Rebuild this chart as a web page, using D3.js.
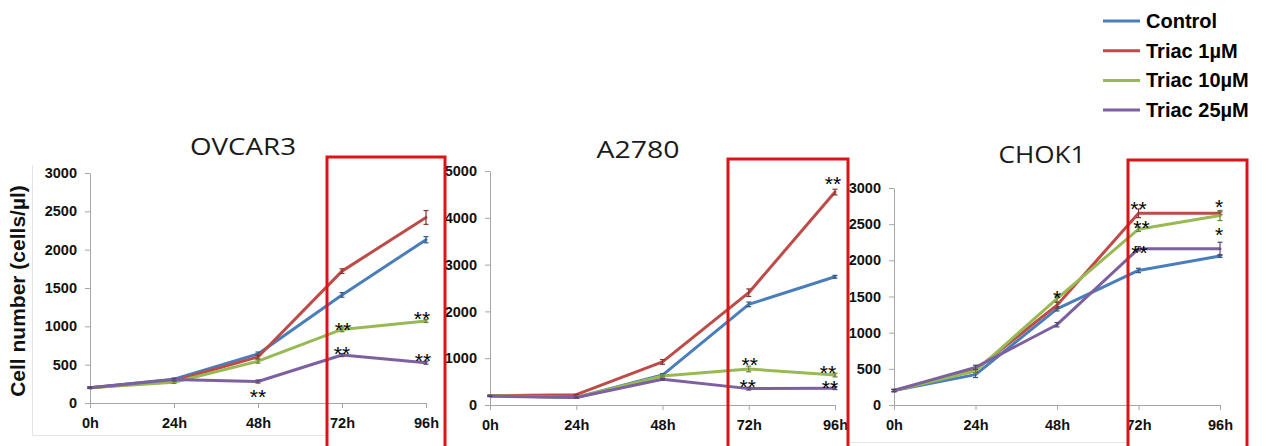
<!DOCTYPE html>
<html>
<head>
<meta charset="utf-8">
<script src="https://cdn.jsdelivr.net/npm/d3@7/dist/d3.min.js"></script>
<style>
  html, body { margin: 0; padding: 0; background: #fff; }
  svg { display: block; }
  .tick text { font-family: "Liberation Sans", Arial, sans-serif; font-weight: bold; font-size: 14.5px; fill: #111; }
</style>
</head>
<body>
<svg id="chart" width="1266" height="446"></svg>
<script>
// Time points and series
const times = ["0h", "24h", "48h", "72h", "96h"];
const seriesNames = ["Control", "Triac 1\u00b5M", "Triac 10\u00b5M", "Triac 25\u00b5M"];
const seriesColors = ["#4a7ebb", "#be4b48", "#98b954", "#7d60a0"];

// Cell counts (cells/µl), one row per series, one column per time point
const ovcar3Values = [
  [200, 310, 640, 1410, 2130],
  [200, 290, 600, 1720, 2420],
  [200, 270, 545, 960, 1070],
  [200, 305, 280, 626, 526]
];
const a2780Values = [
  [200, 160, 640, 2150, 2740],
  [200, 220, 920, 2400, 4550],
  [200, 160, 620, 770, 640],
  [190, 160, 550, 350, 360]
];
const chok1Values = [
  [200, 420, 1330, 1860, 2060],
  [200, 485, 1380, 2650, 2650],
  [200, 470, 1470, 2430, 2620],
  [200, 520, 1110, 2160, 2160]
];

// Error bar half-widths (same layout as the values)
const ovcar3Errors = [
  [10, 15, 25, 30, 40],
  [10, 15, 25, 30, 90],
  [10, 15, 25, 30, 20],
  [10, 15, 20, 20, 20]
];
const a2780Errors = [
  [10, 10, 30, 50, 30],
  [10, 10, 50, 80, 60],
  [10, 10, 20, 60, 40],
  [10, 10, 20, 30, 30]
];
const chok1Errors = [
  [15, 40, 30, 30, 20],
  [15, 30, 40, 60, 20],
  [15, 30, 40, 30, 70],
  [15, 30, 30, 30, 90]
];

// Y-axis ticks per panel
const ovcar3Ticks = [0, 500, 1000, 1500, 2000, 2500, 3000];
const a2780Ticks = [0, 1000, 2000, 3000, 4000, 5000];
const chok1Ticks = [0, 500, 1000, 1500, 2000, 2500, 3000];

const panelTitles = ["OVCAR3", "A2780", "CHOK1"];

// Significance marks: [panel, series, time index, label]
const significance = [
  [0, 3, 2, "**"], [0, 2, 3, "**"], [0, 3, 3, "**"], [0, 2, 4, "**"], [0, 3, 4, "**"],
  [1, 1, 4, "**"], [1, 2, 3, "**"], [1, 3, 3, "**"], [1, 2, 4, "**"], [1, 3, 4, "**"],
  [2, 2, 2, "*"], [2, 1, 3, "**"], [2, 2, 3, "**"], [2, 3, 3, "**"], [2, 1, 4, "*"], [2, 3, 4, "*"]
];
// Pixel offsets of each mark from its point
const significanceNudge = [
  [0, 10], [1, -5], [0, -6], [-4, -7], [-3, -7],
  [-2, -13], [1, -9], [-1, -7], [-7, -7], [-5, -5],
  [0, -6], [0, -10], [3, -6], [1, -1], [-1, -12], [-1, -19]
];

// ---- layout ----
const panels = [
  { values: ovcar3Values, errors: ovcar3Errors, ticks: ovcar3Ticks, yMax: 3000,
    x: [90, 426], y: [403, 173], title: [243, 155, 106], box: [327, 157, 445] },
  { values: a2780Values, errors: a2780Errors, ticks: a2780Ticks, yMax: 5000,
    x: [490, 835], y: [405, 171], title: [638, 158, 83], box: [728, 159, 848] },
  { values: chok1Values, errors: chok1Errors, ticks: chok1Ticks, yMax: 3000,
    x: [894, 1220], y: [405, 188], title: [1042, 163, 87], box: [1128, 160, 1247] }
];

const svg = d3.select("#chart");
const font = '"Liberation Sans", Arial, sans-serif';

// faint chart-area outlines
const frame = svg.append("g").attr("stroke", "#e4e4e4").attr("stroke-width", 1).attr("fill", "none");
frame.append("path").attr("d", "M32.5,165 V435.5 H327");
frame.append("path").attr("d", "M850,442.5 H1128");

panels.forEach((p, pi) => {
  const x = d3.scalePoint().domain(times).range(p.x);
  const y = d3.scaleLinear().domain([0, p.yMax]).range(p.y);
  const g = svg.append("g");

  const xAxis = g.append("g")
    .attr("transform", `translate(0,${p.y[0]})`)
    .call(d3.axisBottom(x).tickSize(5).tickSizeOuter(0).tickPadding(10));
  const yAxis = g.append("g")
    .attr("transform", `translate(${p.x[0]},0)`)
    .call(d3.axisLeft(y).tickValues(p.ticks).tickFormat(d3.format("d")).tickSize(5).tickSizeOuter(0).tickPadding(8));
  [xAxis, yAxis].forEach(a => {
    a.select(".domain").attr("stroke", "#a6a6a6");
    a.selectAll(".tick line").attr("stroke", "#a6a6a6");
    a.attr("font-family", null).attr("font-size", null);
  });

  // title
  g.append("text")
    .attr("x", p.title[0]).attr("y", p.title[1])
    .attr("text-anchor", "middle")
    .attr("font-family", '"Open Sans", "Noto Sans", sans-serif')
    .attr("font-size", 23)
    .attr("fill", "#1a1a1a")
    .attr("textLength", p.title[2])
    .attr("lengthAdjust", "spacingAndGlyphs")
    .text(panelTitles[pi]);

  const line = d3.line().x((d, i) => x(times[i])).y(d => y(d));

  p.values.forEach((vals, si) => {
    g.append("path")
      .datum(vals)
      .attr("d", line)
      .attr("fill", "none")
      .attr("stroke", seriesColors[si])
      .attr("stroke-width", 3)
      .attr("stroke-linejoin", "round")
      .attr("stroke-linecap", "round");

    // error bars
    const eb = g.append("g").attr("stroke", d3.color(seriesColors[si]).darker(1)).attr("stroke-width", 1.2);
    vals.forEach((v, ti) => {
      const e = p.errors[si][ti];
      const cx = x(times[ti]);
      eb.append("line").attr("x1", cx).attr("x2", cx).attr("y1", y(v - e)).attr("y2", y(v + e));
      eb.append("line").attr("x1", cx - 2.5).attr("x2", cx + 2.5).attr("y1", y(v - e)).attr("y2", y(v - e));
      eb.append("line").attr("x1", cx - 2.5).attr("x2", cx + 2.5).attr("y1", y(v + e)).attr("y2", y(v + e));
    });
  });

  // significance marks for this panel
  significance.forEach((s, k) => {
    if (s[0] !== pi) return;
    const [dx, dy] = significanceNudge[k];
    const cx = x(times[s[2]]) + dx;
    const cy = y(p.values[s[1]][s[2]]) + dy;
    g.append("text")
      .attr("x", cx).attr("y", cy + 12.2)
      .attr("text-anchor", "middle")
      .attr("font-family", font)
      .attr("font-size", 21)
      .attr("fill", "#000")
      .text(s[3]);
  });
});

// highlight boxes around the 72h–96h window
panels.forEach(p => {
  const [x0, y0, x1] = p.box;
  svg.append("rect")
    .attr("x", x0).attr("y", y0)
    .attr("width", x1 - x0).attr("height", 450 - y0)
    .attr("fill", "none")
    .attr("stroke", "#dc1414")
    .attr("stroke-width", 3);
});

// y-axis title
svg.append("text")
  .attr("transform", "translate(25,291) rotate(-90)")
  .attr("text-anchor", "middle")
  .attr("font-family", font)
  .attr("font-weight", "bold")
  .attr("font-size", 21)
  .attr("fill", "#111")
  .text("Cell number (cells/\u00b5l)");

// legend
const legend = svg.append("g");
seriesNames.forEach((name, i) => {
  const cy = 21 + i * 29.7;
  legend.append("line")
    .attr("x1", 1103).attr("x2", 1140)
    .attr("y1", cy).attr("y2", cy)
    .attr("stroke", seriesColors[i])
    .attr("stroke-width", 3);
  legend.append("text")
    .attr("x", 1146).attr("y", cy + 7)
    .attr("font-family", font)
    .attr("font-weight", "bold")
    .attr("font-size", 20)
    .attr("fill", "#000")
    .text(name);
});
</script>
</body>
</html>
